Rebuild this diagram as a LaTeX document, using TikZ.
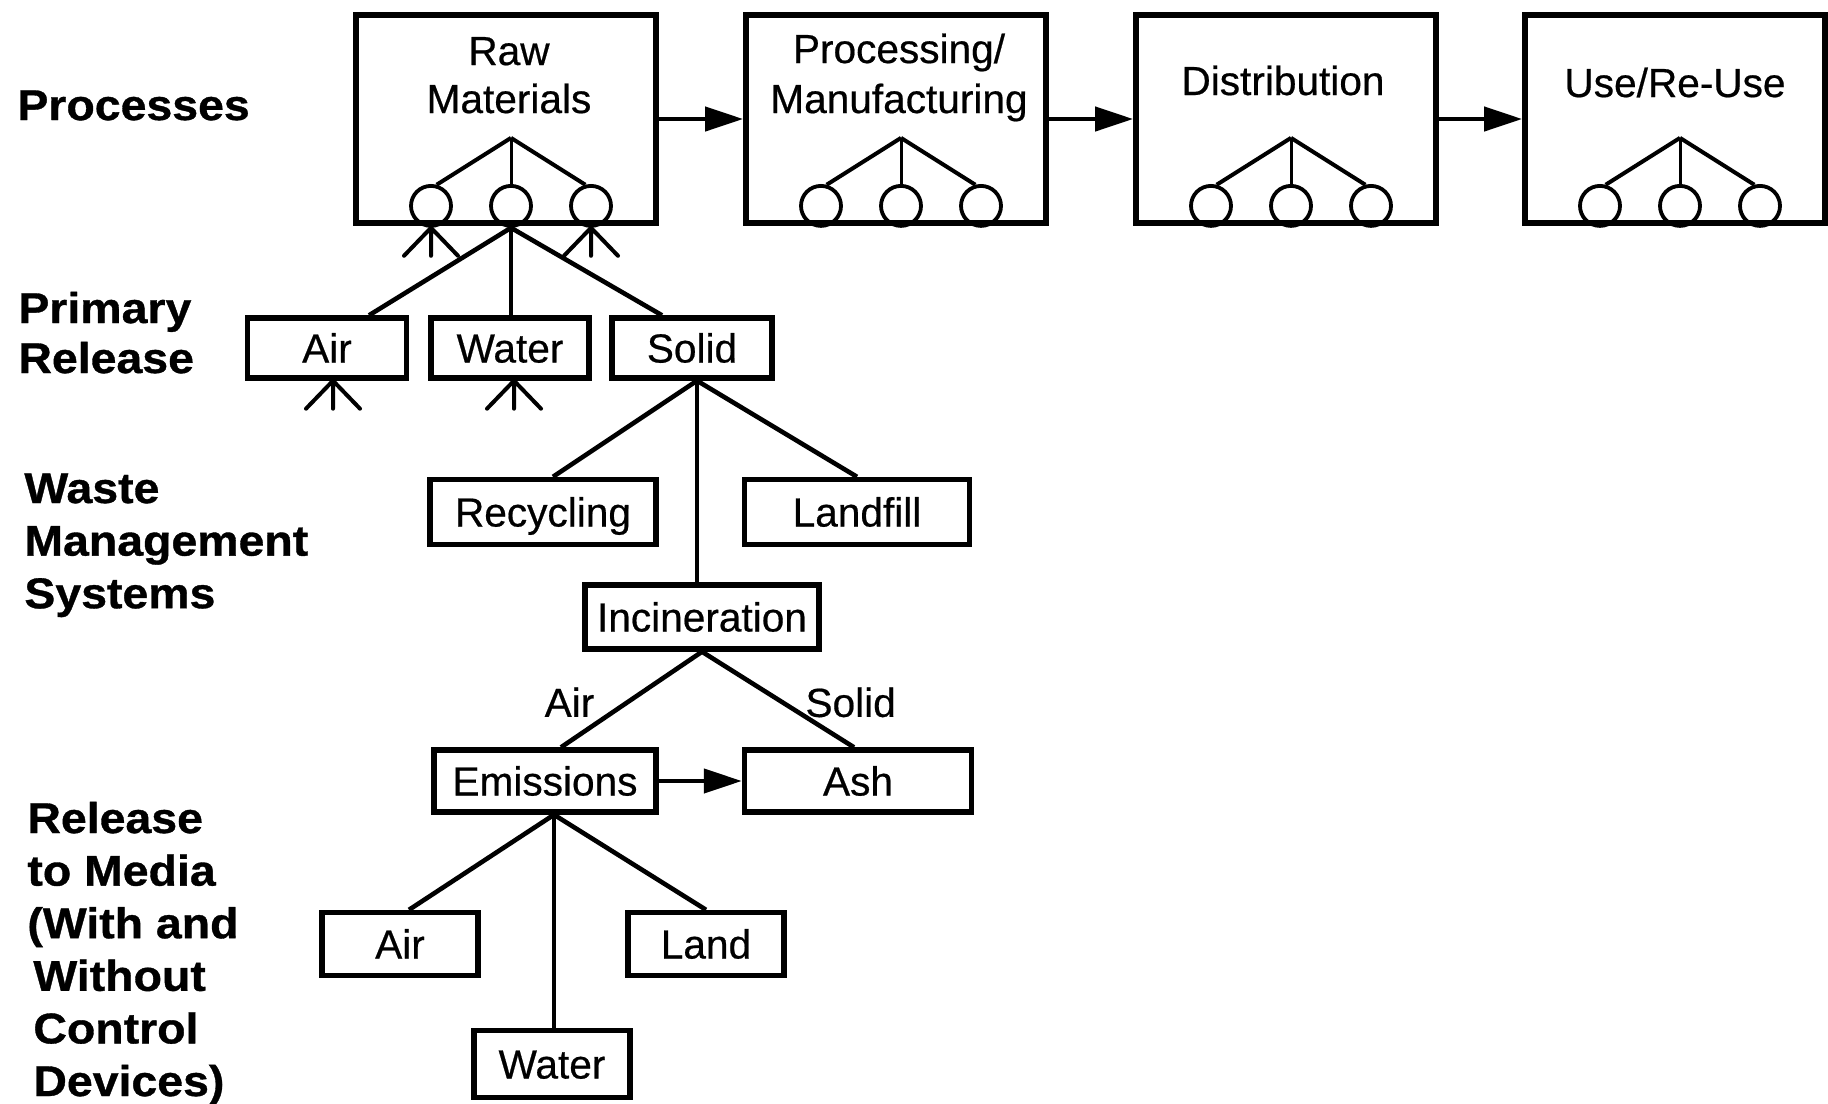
\documentclass[tikz,border=0pt]{standalone}
\usepackage{fontspec}
\setmainfont{Liberation Sans}[FakeBold=0.5]
\newfontfamily\stagefamily{Liberation Sans}[FakeStretch=1.08, BoldFeatures={FakeBold=0.8}]
\usetikzlibrary{calc,arrows.meta}

\newcommand\boxfont{\fontsize{20.3}{24}\selectfont}
\newcommand\stagefont{\stagefamily\bfseries\fontsize{21.5}{26.3}\selectfont}

\tikzset{
  bigbox/.style={draw, rectangle, line width=2.9pt, inner sep=0pt,
    minimum width=150pt, minimum height=104pt},
  smallbox/.style={draw, rectangle, line width=2.7pt, inner sep=0pt,
    font=\boxfont, text height=14.5pt, text depth=0pt},
  boxtext/.style={font=\boxfont, anchor=base, inner sep=0pt},
  edgetext/.style={font=\boxfont, text height=14.5pt, text depth=0pt},
  ring/.style={draw, circle, line width=1.9pt, minimum size=20pt, inner sep=0pt},
  link/.style={line width=2.3pt},
  uplink/.style={line width=1.8pt},
  thinlink/.style={line width=2pt},
  flow/.style={line width=2.2pt, -{Triangle[length=19pt,width=12pt]}},
  stage/.style={font=\stagefont, anchor=base west, inner sep=0pt},
  crowfoot/.pic={\draw[line width=2pt, line cap=round]
    (0,0) -- (-27,28) (0,0) -- (0,28) (0,0) -- (27,28);}
}

\begin{document}
\begin{tikzpicture}[x=0.5pt, y=-0.5pt]
  \useasboundingbox[fill=white] (0,0) rectangle (1828,1104);

  % stage headings down the left side
  \node[stage] (hproc) at (17,120) {Processes};
  \node[stage] (hprim) at (18,323)
    {\fontsize{21.5}{25}\selectfont\begin{tabular}[t]{@{}l@{}}Primary\\Release\end{tabular}};
  \node[stage] (hwaste) at (24,503)
    {\begin{tabular}[t]{@{}l@{}}Waste\\Management\\Systems\end{tabular}};
  \node[stage] (hmedia) at (27,833)
    {\begin{tabular}[t]{@{}l@{}}Release\\to Media\\(With and\\\hspace{3pt}Without\\\hspace{3pt}Control\\\hspace{3pt}Devices)\end{tabular}};

  % life-cycle process boxes
  \node[bigbox] (raw)  at (506,119) {};
  \node[bigbox] (proc) at (896,119) {};
  \node[bigbox] (dist) at (1286,119) {};
  \node[bigbox] (use)  at (1675,119) {};

  \node[boxtext] (rawa)  at (509,65)  {Raw};
  \node[boxtext] (rawb)  at (509,113) {Materials};
  \node[boxtext] (proca) at (899,63)  {Processing/};
  \node[boxtext] (procb) at (899,113) {Manufacturing};
  \node[boxtext] (dista) at (1283,95) {Distribution};
  \node[boxtext] (usea)  at (1675,97) {Use/Re-Use};

  \draw[flow] (raw) -- (proc);
  \draw[flow] (proc) -- (dist);
  \draw[flow] (dist) -- (use);

  % three-branch release tree inside every process box
  \foreach \b in {raw,proc,dist,use}{
    \coordinate (\b-top) at ($(\b.south)+(5,-88)$);
    \node[ring] (\b-c1) at ($(\b.south)+(-75,-20)$) {};
    \node[ring] (\b-c2) at ($(\b.south)+(5,-20)$) {};
    \node[ring] (\b-c3) at ($(\b.south)+(85,-20)$) {};
    \draw[thinlink] (\b-top) -- (\b-c1.75)
                    (\b-top) -- (\b-c3.105);
    \draw[line width=1.5pt] (\b-top) -- (\b-c2.north);
  }
  \pic at (raw-c1.south) {crowfoot};
  \pic at (raw-c3.south) {crowfoot};

  % primary release
  \node[smallbox, minimum width=79.5pt, minimum height=30pt] (air1)   at (327,348) {Air};
  \node[smallbox, minimum width=79pt,   minimum height=30pt] (water1) at (510,348) {Water};
  \node[smallbox, minimum width=80pt,   minimum height=30pt] (solid1) at (692,348) {Solid};

  \draw[link] (raw-c2.south) -- ($(air1.north)+(42,0)$);
  \draw[uplink] (raw-c2.south) -- (raw-c2.south |- water1.north);
  \draw[link] (raw-c2.south) -- ($(solid1.north)+(-30,0)$);

  \pic at ($(air1.south)+(6,0)$) {crowfoot};
  \pic at ($(water1.south)+(4,0)$) {crowfoot};

  % waste management systems
  \node[smallbox, minimum width=113pt,   minimum height=32.5pt] (recyc) at (543,512) {Recycling};
  \node[smallbox, minimum width=112.5pt, minimum height=32.5pt] (landf) at (857,512) {Landfill};
  \node[smallbox, minimum width=117pt,   minimum height=32pt]   (incin) at (702,617) {Incineration};

  \coordinate (solidfoot) at ($(solid1.south)+(5,0)$);
  \draw[link] (solidfoot) -- ($(recyc.north)+(10,0)$);
  \draw[link] (solidfoot) -- (landf.north);
  \draw[uplink] (solidfoot) -- (solidfoot |- incin.north);

  % incineration products
  \node[smallbox, minimum width=111pt,   minimum height=31pt] (emis) at (545,781) {Emissions};
  \node[smallbox, minimum width=113.5pt, minimum height=31pt] (ash)  at (858,781) {Ash};

  \draw[link] (incin.south) -- ($(emis.north)+(16,0)$)
    node[edgetext, pos=0.53, left=12pt] (airlab) {Air};
  \draw[link] (incin.south) -- ($(ash.north)+(-4,0)$)
    node[edgetext, pos=0.53, right=7pt] (solidlab) {Solid};
  \draw[flow] (emis) -- (ash);

  % release to media
  \node[smallbox, minimum width=78pt, minimum height=31.5pt] (air2)   at (400,944)  {Air};
  \node[smallbox, minimum width=78pt, minimum height=31.5pt] (land)   at (706,944)  {Land};
  \node[smallbox, minimum width=78pt, minimum height=33.5pt] (water2) at (552,1064) {Water};

  \coordinate (emisfoot) at ($(emis.south)+(9,0)$);
  \draw[link] (emisfoot) -- ($(air2.north)+(9,0)$);
  \draw[uplink] (emisfoot) -- (emisfoot |- water2.north);
  \draw[link] (emisfoot) -- (land.north);
\end{tikzpicture}
\end{document}
